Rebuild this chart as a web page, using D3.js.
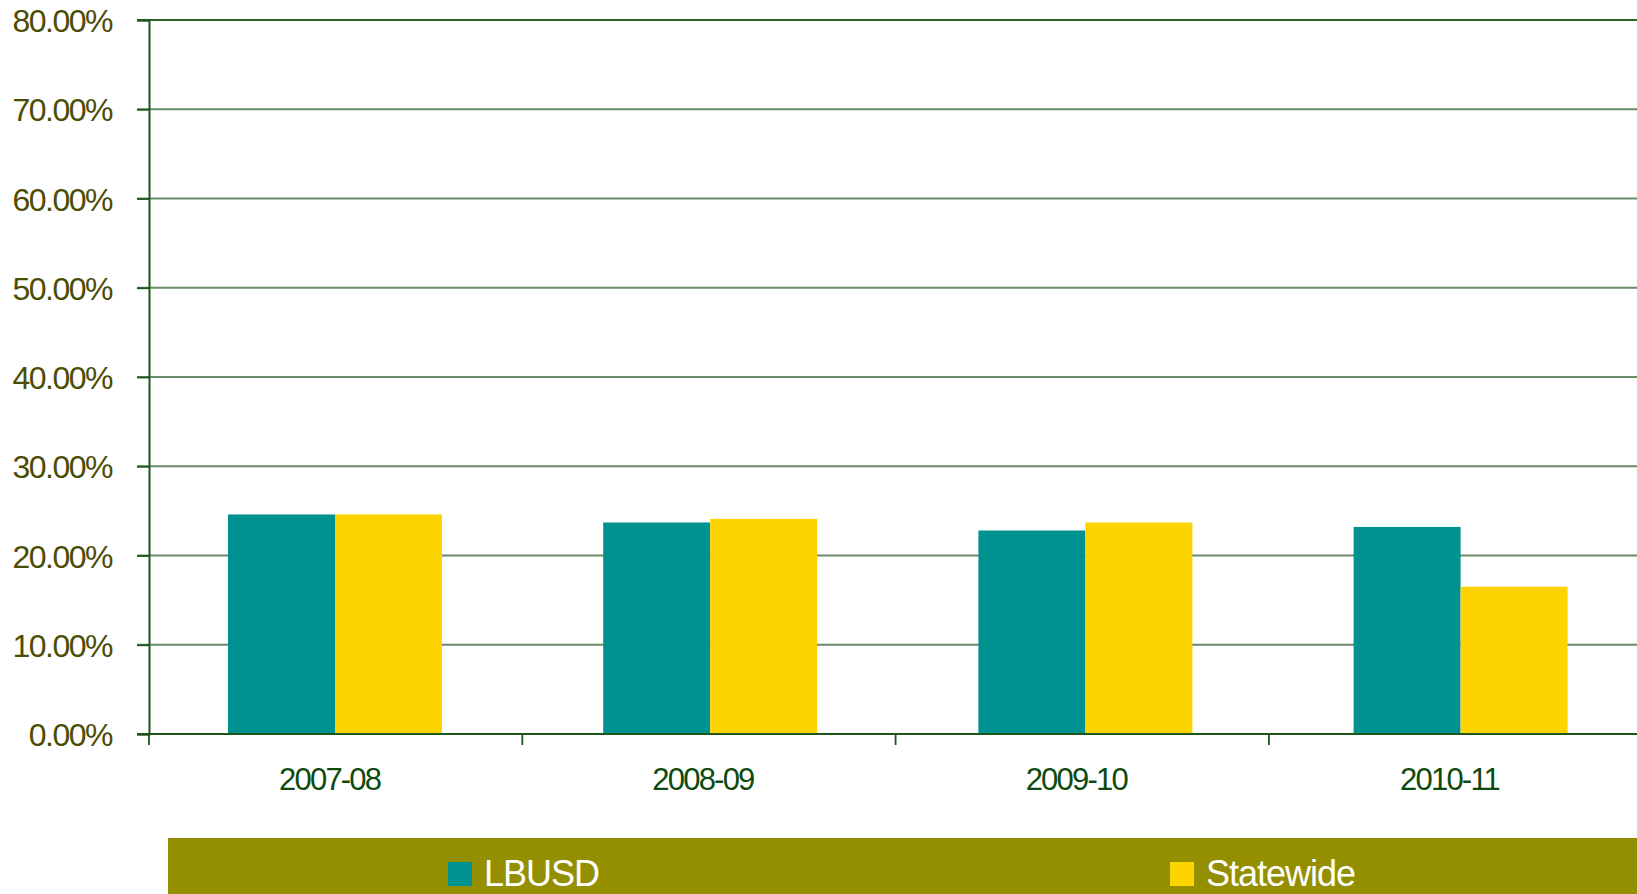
<!DOCTYPE html>
<html>
<head>
<meta charset="utf-8">
<script src="https://cdn.jsdelivr.net/npm/d3@7"></script>
<style>
  html, body { margin: 0; padding: 0; background: #fff; overflow: hidden; }
  svg { display: block; font-family: "Liberation Sans", Arial, sans-serif; }
</style>
</head>
<body>
<svg id="chart" width="1637" height="894"></svg>
<script>
const categories = ["2007-08", "2008-09", "2009-10", "2010-11"];
const seriesNames = ["LBUSD", "Statewide"];
const lbusdValues = [0.246, 0.237, 0.228, 0.232];
const statewideValues = [0.246, 0.241, 0.237, 0.165];
const yTicks = [0, 0.1, 0.2, 0.3, 0.4, 0.5, 0.6, 0.7, 0.8];
const seriesColors = ["#009191", "#fed400"];

const svg = d3.select("#chart");
const plotLeft = 149, plotTop = 20, plotBottom = 734;

const y = d3.scaleLinear().domain([0, 0.8]).range([plotBottom, plotTop]);
// axis category scale (ticks & labels)
const xAxisScale = d3.scaleBand().domain(categories).range([plotLeft, plotLeft + 4 * 373.3]).padding(0);
// bar placement scale
const xBar = d3.scaleBand().domain(categories).range([plotLeft, plotLeft + 4 * 375.2]).padding(0);
const xInner = d3.scaleBand().domain(seriesNames).range([79, 79 + 214]).padding(0);

// gridlines
const grid = svg.append("g");
grid.selectAll("line").data(yTicks.filter(d => d > 0)).join("line")
  .attr("x1", plotLeft - 12).attr("x2", 1637)
  .attr("y1", d => y(d)).attr("y2", d => y(d))
  .attr("stroke", d => d === 0.8 ? "#2a642a" : "#688c68")
  .attr("stroke-width", 1.8);

// bars
const data = categories.map((c, i) => ({cat: c, vals: [lbusdValues[i], statewideValues[i]]}));
const groups = svg.append("g").selectAll("g").data(data).join("g")
  .attr("transform", d => `translate(${xBar(d.cat)},0)`);
groups.selectAll("rect").data(d => d.vals.map((v, j) => ({name: seriesNames[j], v, j}))).join("rect")
  .attr("x", d => xInner(d.name))
  .attr("width", xInner.bandwidth())
  .attr("y", d => y(d.v))
  .attr("height", d => y(0) - y(d.v))
  .attr("fill", d => seriesColors[d.j]);

// y axis
const yAxis = d3.axisLeft(y).tickValues(yTicks).tickSize(12).tickPadding(25)
  .tickFormat(d => (d * 100).toFixed(2) + "%");
const gy = svg.append("g").attr("transform", `translate(${plotLeft},0)`).call(yAxis);
gy.select(".domain").attr("stroke", "#1c561c").attr("stroke-width", 2);
gy.selectAll(".tick line").attr("stroke", "#1c561c").attr("stroke-width", 1.8);
gy.selectAll(".tick text")
  .attr("fill", "#4d4c05")
  .attr("font-size", "32px")
  .attr("letter-spacing", "-1.5px")
  .attr("font-family", "Liberation Sans, Arial, sans-serif")
  .attr("dy", "0.36em");

// x axis
const boundaries = categories.map(c => xAxisScale(c)).concat([xAxisScale.range()[1]]);
const gx = svg.append("g");
gx.append("line").attr("x1", plotLeft - 12).attr("x2", 1637).attr("y1", plotBottom).attr("y2", plotBottom)
  .attr("stroke", "#1c561c").attr("stroke-width", 2);
gx.selectAll("line.tk").data(boundaries).join("line").attr("class", "tk")
  .attr("x1", d => d).attr("x2", d => d).attr("y1", plotBottom).attr("y2", plotBottom + 11)
  .attr("stroke", "#1c561c").attr("stroke-width", 1.8);
gx.selectAll("text").data(categories).join("text")
  .attr("x", d => xAxisScale(d) + xAxisScale.bandwidth() / 2 - 6)
  .attr("y", 790)
  .attr("text-anchor", "middle")
  .attr("fill", "#0e4a0e")
  .attr("font-size", "31px")
  .attr("letter-spacing", "-1.8px")
  .text(d => d);

// legend
const legend = svg.append("g");
legend.append("rect").attr("x", 168).attr("y", 838).attr("width", 1637 - 168).attr("height", 56)
  .attr("fill", "#948f00");
const legendX = [448, 1170];
const li = legend.selectAll("g").data(seriesNames).join("g")
  .attr("transform", (d, i) => `translate(${legendX[i]},862)`);
li.append("rect").attr("width", 24).attr("height", 24).attr("fill", (d, i) => seriesColors[i]);
li.append("text").attr("x", 36).attr("y", 24)
  .attr("fill", "#ffffff").attr("font-size", "36px").attr("letter-spacing", "-1px")
  .text(d => d);
</script>
</body>
</html>
